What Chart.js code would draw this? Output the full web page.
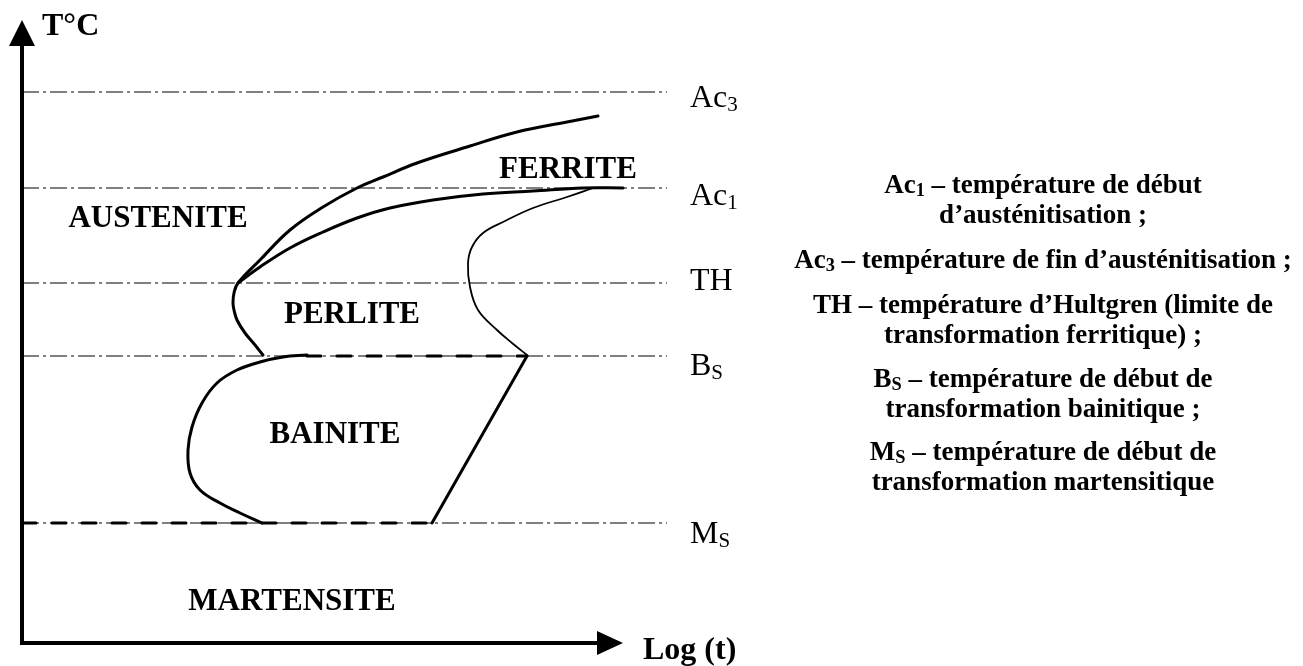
<!DOCTYPE html>
<html lang="fr">
<head>
<meta charset="utf-8">
<title>Diagramme TTT</title>
<script src="https://cdn.jsdelivr.net/npm/chart.js@4.4.1/dist/chart.umd.min.js"></script>
<style>
  html, body { margin: 0; padding: 0; background: #fff; }
  body { width: 1303px; height: 666px; position: relative; overflow: hidden; }
  #ttt { position: absolute; left: 0; top: 0; }
  .notes p {
    position: absolute; left: 743px; width: 600px; margin: 0;
    text-align: center; white-space: nowrap;
    font: bold 27px "Liberation Serif", "Times New Roman", serif;
    line-height: 30px; color: #000;
  }
  .notes sub { font-size: 0.68em; vertical-align: -0.14em; line-height: 0; }
</style>
</head>
<body>
<canvas id="ttt" width="780" height="666"></canvas>

<div class="notes">
  <p style="top:169px">Ac<sub>1</sub> – température de début<br>d’austénitisation ;</p>
  <p style="top:244px">Ac<sub>3</sub> – température de fin d’austénitisation ;</p>
  <p style="top:289px">TH – température d’Hultgren (limite de<br>transformation ferritique) ;</p>
  <p style="top:363px">B<sub>S</sub> – température de début de<br>transformation bainitique ;</p>
  <p style="top:436px">M<sub>S</sub> – température de début de<br>transformation martensitique</p>
</div>

<script>
// ------------------------------------------
// données (log t, T) en unités arbitraires, origine = coin des axes
// ------------------------------------------
const levelMain = ['Ac', 'Ac', 'TH', 'B', 'M'];
const levelSub  = ['3', '1', '', 'S', 'S'];
const levelTemp = [551, 455, 360, 287, 120];   // Ac3, Ac1, TH, Bs, Ms
const levelEnd  = 645;                          // fin des traits mixtes

// début ferrite -> nez -> début perlite
const ferriteStart = [
  [576, 527], [545, 521], [495, 511], [445, 496], [395, 480], [361, 466],
  [335, 455], [301, 436], [268, 413], [238, 383], [216, 360],
  [212, 350], [211, 340], [212, 333], [215, 323], [223, 310],
  [233, 298], [241, 288]
];
// fin ferrite (rejoint Ac1)
const ferriteEnd = [
  [216, 360], [238, 376], [268, 395], [301, 411], [335, 425], [368, 435],
  [411, 443], [461, 449], [511, 452], [561, 455], [601, 455]
];
// fin perlite (trait fin)
const perliteEnd = [
  [571, 455], [545, 446], [511, 435], [481, 421], [461, 410], [450, 396],
  [446, 380], [448, 356], [456, 333], [475, 313], [490, 300], [505, 288]
];
// début bainite
const bainiteStart = [
  [285, 288], [261, 286], [238, 281], [215, 273], [195, 260], [180, 240],
  [170, 216], [166, 193], [168, 170], [178, 153], [198, 140], [218, 130],
  [240, 120]
];
// fin bainite (droite)
const bainiteEnd = [[505, 287], [410, 120]];
// segments tiretés noirs sur Bs et Ms
const bsDash = [[285, 287], [505, 287]];
const msDash = [[0, 120], [410, 120]];

// étiquettes des domaines
const regionNames = ['AUSTENITE', 'FERRITE', 'PERLITE', 'BAINITE', 'MARTENSITE'];
const regionX = [136, 546, 330, 313, 270];
const regionY = [416, 465, 320, 200, 33];

// ------------------------------------------
// datasets
// ------------------------------------------
const toPts = arr => arr.map(p => ({ x: p[0], y: p[1] }));

const datasets = [];
const curve = (pts, width, tension, dash, order) => datasets.push({
  data: toPts(pts), showLine: true, pointRadius: 0, borderColor: '#000',
  borderWidth: width, tension: tension, borderDash: dash || [], order: order || 1,
  clip: false, borderCapStyle: 'round'
});

curve(ferriteStart, 3, 0.4);
curve(ferriteEnd, 3, 0.4);
curve(perliteEnd, 1.8, 0.4);
curve(bainiteStart, 3, 0.4);
curve(bainiteEnd, 3, 0);
curve(bsDash, 3, 0, [14, 16], 2);
curve(msDash, 3, 0, [14, 16], 2);

levelTemp.forEach(t => datasets.push({
  data: [{ x: 0, y: t }, { x: levelEnd, y: t }],
  showLine: true, pointRadius: 0, borderColor: '#808080', borderWidth: 2,
  borderDash: [17, 4, 3, 4], tension: 0, order: 3, clip: false
}));

// axes fléchés + textes
const decor = {
  id: 'decor',
  afterDatasetsDraw(chart) {
    const { ctx, scales: { x, y } } = chart;
    const x0 = x.getPixelForValue(0), y0 = y.getPixelForValue(0);
    ctx.save();
    ctx.fillStyle = '#000';
    ctx.strokeStyle = '#000';
    ctx.lineWidth = 4;
    ctx.lineCap = 'butt';

    // axe T
    ctx.beginPath();
    ctx.moveTo(x0, y0 + 2);
    ctx.lineTo(x0, 44);
    ctx.stroke();
    ctx.beginPath();
    ctx.moveTo(x0, 20); ctx.lineTo(x0 - 13, 46); ctx.lineTo(x0 + 13, 46);
    ctx.closePath(); ctx.fill();

    // axe log t
    const xEnd = x.getPixelForValue(601);
    ctx.beginPath();
    ctx.moveTo(x0 - 2, y0);
    ctx.lineTo(xEnd - 24, y0);
    ctx.stroke();
    ctx.beginPath();
    ctx.moveTo(xEnd, y0); ctx.lineTo(xEnd - 26, y0 - 12); ctx.lineTo(xEnd - 26, y0 + 12);
    ctx.closePath(); ctx.fill();

    ctx.font = 'bold 32px "Liberation Serif"';
    ctx.textAlign = 'left';
    ctx.textBaseline = 'alphabetic';
    ctx.fillText('T°C', x0 + 20, 35);
    ctx.fillText('Log (t)', xEnd + 20, y0 + 16);

    // domaines
    ctx.font = 'bold 31px "Liberation Serif"';
    ctx.textAlign = 'center';
    regionNames.forEach((name, i) => {
      ctx.fillText(name, x.getPixelForValue(regionX[i]), y.getPixelForValue(regionY[i]));
    });

    // repères de température
    ctx.textAlign = 'left';
    const labelOffset = [15, 17, 7, 19, 20];
    levelMain.forEach((m, i) => {
      const lx = x.getPixelForValue(levelEnd) + 23;
      const ly = y.getPixelForValue(levelTemp[i]) + labelOffset[i];
      ctx.font = '32px "Liberation Serif"';
      ctx.fillText(m, lx, ly);
      const w = ctx.measureText(m).width;
      if (levelSub[i]) {
        ctx.font = '21px "Liberation Serif"';
        ctx.fillText(levelSub[i], lx + w, ly + 4);
      }
    });
    ctx.restore();
  }
};

new Chart(document.getElementById('ttt'), {
  type: 'scatter',
  data: { datasets },
  options: {
    responsive: false,
    animation: false,
    devicePixelRatio: 1,
    layout: { padding: { left: 22, right: 0, top: 0, bottom: 23 } },
    scales: {
      x: { type: 'linear', min: 0, max: 758, display: false },
      y: { type: 'linear', min: 0, max: 643, display: false }
    },
    plugins: { legend: { display: false }, tooltip: { enabled: false } }
  },
  plugins: [decor]
});
</script>
</body>
</html>
